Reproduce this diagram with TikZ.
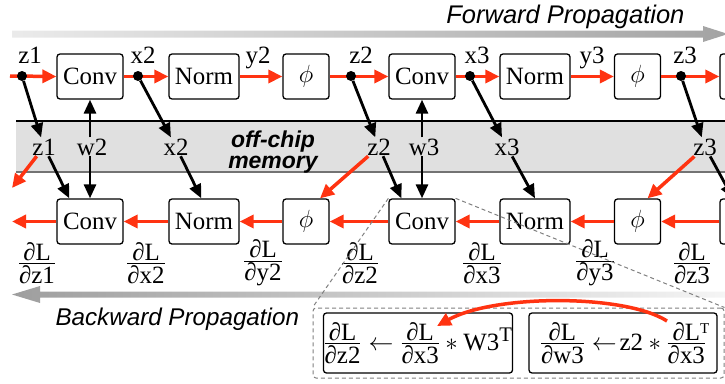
\documentclass[tikz,border=0pt]{standalone}
\usepackage{amsmath}
\usepackage{fontspec}
\setmainfont{Liberation Serif}
\newfontfamily\labelsans{Liberation Sans}
\usetikzlibrary{arrows.meta,calc}
\definecolor{fwdred}{HTML}{FF3311}

% dL/dv written as a stacked fraction with full-size parts
\newcommand{\grad}[2]{\frac{\displaystyle\text{∂#1}}{\displaystyle\text{∂#2}}}
% same, with a transpose mark after the numerator
\newcommand{\gradT}[2]{\frac{\displaystyle\text{∂#1\rlap{\raisebox{7pt}{\fontsize{15}{15}\selectfont T}}}}{\displaystyle\text{∂#2}}}

\begin{document}
\begin{tikzpicture}[x=1pt,y=-1pt,
  every node/.style={font=\fontsize{24.88}{30}\selectfont},
  op/.style={draw, line width=1.3pt, rounded corners=3pt, minimum height=45pt, inner sep=0pt},
  convbox/.style={op, minimum width=66pt},
  normbox/.style={op, minimum width=70pt},
  actbox/.style={op, minimum width=46pt},
  lbl/.style={anchor=base, inner sep=1pt},
  dot/.style={circle, fill=black, inner sep=0pt, minimum size=10pt},
  rarr/.style={draw=fwdred, line width=3.5pt, -{Triangle[length=14pt,width=13pt]}, fwdred},
  barr/.style={draw=black, line width=2.8pt, -{Triangle[length=14pt,width=12pt]}},
  zoomline/.style={draw=black!50, line width=1pt, dash pattern=on 4pt off 3pt},
  propfont/.style={font=\labelsans\itshape\fontsize{25.5}{28}\selectfont}
]
\useasboundingbox (0,0) rectangle (725,383);
\clip (0,0) rectangle (725,383);

% direction bars
\shade[left color=black!8, right color=black!36]
  (12,30.5) -- (703,30.5) -- (703,26) -- (728,34) -- (703,42) -- (703,37.5) -- (12,37.5) -- cycle;
\shade[left color=black!38, right color=black!4]
  (12,294.5) -- (40,286) -- (40,291.5) -- (725,291.5) -- (725,297.5) -- (40,297.5) -- (40,303) -- cycle;
\node[propfont, anchor=base east] (fwd) at (688,23) {Forward Propagation};
\node[propfont, font=\labelsans\itshape\fontsize{24.2}{28}\selectfont, anchor=base west] (bwd) at (52,325) {Backward Propagation};

% off-chip memory band
\fill[black!12] (16,121) rectangle (725,172);
\draw[line width=1.2pt] (16,121) -- (725,121);
\draw[line width=1.5pt, black!55] (16,172) -- (725,172);
\node[font=\labelsans\bfseries\itshape\fontsize{23}{21.5}\selectfont, align=center, inner sep=0pt] (mem) at (273,152) {off-chip\\memory};

% forward layers
\node[convbox] (conv1) at (90,76.5) {Conv};
\node[normbox] (norm1) at (204,76.5) {Norm};
\node[actbox]  (phi1)  at (306,76.5) {$\phi$};
\node[convbox] (conv2) at (422,76.5) {Conv};
\node[normbox] (norm2) at (535,76.5) {Norm};
\node[actbox]  (phi2)  at (637.5,76.5) {$\phi$};
\node[convbox] (conv3) at (753,76.5) {};

% backward layers
\node[convbox] (conv1b) at (90,221.5) {Conv};
\node[normbox] (norm1b) at (204,221.5) {Norm};
\node[actbox]  (phi1b)  at (306,221.5) {$\phi$};
\node[convbox] (conv2b) at (422,221.5) {Conv};
\node[normbox] (norm2b) at (535,221.5) {Norm};
\node[actbox]  (phi2b)  at (637.5,221.5) {$\phi$};
\node[convbox] (conv3b) at (753,221.5) {};

% activation names on the forward path
\node[lbl] (tz1) at (30,63) {z1};
\node[lbl] (tx2) at (143,63) {x2};
\node[lbl] (ty2) at (258,63) {y2};
\node[lbl] (tz2) at (361,63) {z2};
\node[lbl] (tx3) at (477,63) {x3};
\node[lbl] (ty3) at (592,63) {y3};
\node[lbl] (tz3) at (685,63) {z3};

% stored tensors
\node[lbl] (mz1) at (44,155) {z1};
\node[lbl] (mw2) at (92,155) {w2};
\node[lbl] (mx2) at (176,155) {x2};
\node[lbl] (mz2) at (379,155) {z2};
\node[lbl] (mw3) at (424,155) {w3};
\node[lbl] (mx3) at (507,155) {x3};
\node[lbl] (mz3) at (705,155) {z3};

% forward data flow
\coordinate (fin) at (10,76);
\draw[rarr] (fin) -- (conv1.west);
\draw[rarr] (conv1.east) -- (norm1.west);
\draw[rarr] (norm1.east) -- (phi1.west);
\draw[rarr] (phi1.east) -- (conv2.west);
\draw[rarr] (conv2.east) -- (norm2.west);
\draw[rarr] (norm2.east) -- (phi2.west);
\draw[rarr] (phi2.east) -- (conv3.west);

% tap points on the forward path
\node[dot] (dz1) at (22,76) {};
\node[dot] (dx2) at (138,76) {};
\node[dot] (dz2) at (351,76) {};
\node[dot] (dx3) at (470,76) {};
\node[dot] (dz3) at (681,76) {};

% writes to memory
\draw[barr] (dz1) -- (mz1);
\draw[barr] (dx2) -- (mx2);
\draw[barr] (dz2) -- (mz2);
\draw[barr] (dx3) -- (mx3);
\draw[barr] (dz3) -- (mz3);

% weights
\draw[barr] (mw2.north -| conv1.south) -- (conv1.south);
\draw[barr] (mw2.south -| conv1b.north) -- (conv1b.north);
\draw[barr] (mw3.north -| conv2.south) -- (conv2.south);
\draw[barr] (mw3.south -| conv2b.north) -- (conv2b.north);

% reads from memory for the backward pass
\draw[barr] (mz1) -- ([xshift=13pt]conv1b.north west);
\draw[barr] (mx2) -- ([xshift=33pt]norm1b.north west);
\draw[barr] (mz2) -- ([xshift=13pt]conv2b.north west);
\draw[barr] (mx3) -- (norm2b.north);
\draw[barr] (mz3) -- ([xshift=-20pt]conv3b.north);
\coordinate (bin) at (12,188);
\draw[rarr] (mz1) -- (bin);
\draw[rarr] (mz2) -- ([xshift=14pt]phi1b.north);
\draw[rarr] (mz3) -- ([xshift=10pt]phi2b.north);

% backward data flow
\coordinate (bout) at (12,221.5);
\draw[rarr] (conv3b.west) -- (phi2b.east);
\draw[rarr] (phi2b.west) -- (norm2b.east);
\draw[rarr] (norm2b.west) -- (conv2b.east);
\draw[rarr] (conv2b.west) -- (phi1b.east);
\draw[rarr] (phi1b.west) -- (norm1b.east);
\draw[rarr] (norm1b.west) -- (conv1b.east);
\draw[rarr] (conv1b.west) -- (bout);

% gradients
\node (gz1) at (37,263) {$\grad{L}{z1}$};
\node (gx2) at (146,263) {$\grad{L}{x2}$};
\node (gy2) at (263,263) {$\grad{L}{y2}$};
\node (gz2) at (360,263) {$\grad{L}{z2}$};
\node (gx3) at (482,263) {$\grad{L}{x3}$};
\node (gy3) at (595,263) {$\grad{L}{y3}$};
\node (gz3) at (692,263) {$\grad{L}{z3}$};

% detail of the Conv backward step
\node[draw=black!50, line width=1pt, dash pattern=on 4pt off 3pt, rounded corners=3pt,
      minimum width=411pt, minimum height=70pt, inner sep=0pt] (zoom) at (518.5,343) {};
\draw[zoomline] (conv2b.north west) -- (zoom.north west);
\draw[zoomline] (conv2b.north east) -- (zoom.north east);

\node[op, minimum width=188pt, minimum height=60pt] (fa) at (418,343)
  {$\grad{L}{z2}\leftarrow\grad{L}{x3}*\text{W3}^{\text{T}}$};
\node[op, minimum width=188pt, minimum height=60pt] (fb) at (623,343)
  {$\grad{L}{w3}\leftarrow\!\text{z2}*\gradT{L}{x3}$};

\coordinate (cs) at (667,321);
\coordinate (ce) at (437,326);
\draw[rarr] (cs) .. controls (625,294) and (495,294) .. (ce);
\end{tikzpicture}
\end{document}
